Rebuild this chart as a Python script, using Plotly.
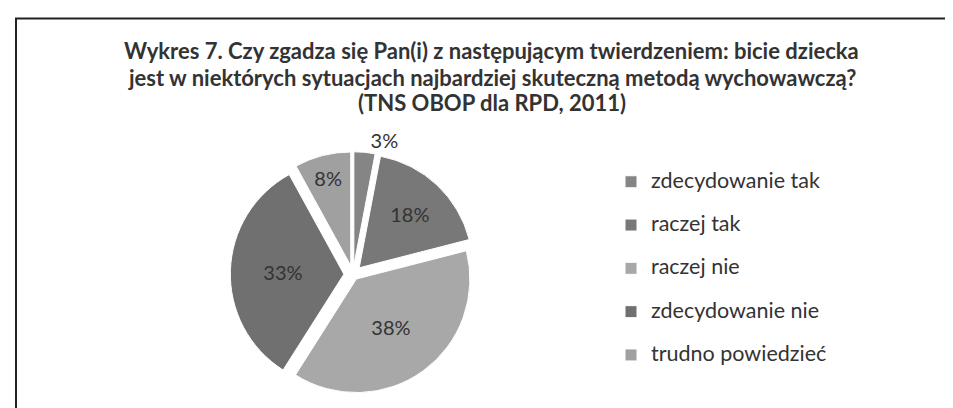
import plotly.graph_objects as go

title_lines = [
    "Wykres 7. Czy zgadza się Pan(i) z następującym twierdzeniem: bicie dziecka",
    "jest w niektórych sytuacjach najbardziej skuteczną metodą wychowawczą?",
    "(TNS OBOP dla RPD, 2011)",
]
categories = ["zdecydowanie tak", "raczej tak", "raczej nie", "zdecydowanie nie", "trudno powiedzieć"]
values = [3, 18, 38, 33, 8]
colors = ["#858585", "#787878", "#a8a8a8", "#707070", "#a0a0a0"]
text_positions = ["outside", "inside", "inside", "inside", "inside"]

W, H = 953, 408

legend_labels = [f"<span style='font-size:21.5px'>{c}</span><br> " for c in categories]

pie_font = dict(family="Lato", size=20, color="#333333")

fig = go.Figure()
fig.add_trace(go.Pie(
    labels=legend_labels,
    values=values,
    sort=False,
    direction="clockwise",
    rotation=0,
    pull=[0.08, 0.08, 0.05, 0.08, 0.08],
    marker=dict(colors=colors, line=dict(color="white", width=1)),
    textinfo="percent",
    texttemplate="%{value}%",
    textposition=text_positions,
    insidetextorientation="horizontal",
    textfont=pie_font,
    insidetextfont=pie_font,
    outsidetextfont=pie_font,
    domain=dict(x=[210 / W, 480 / W], y=[2 / H, 1 - 150 / H]),
    hoverinfo="label+percent",
))

title_y = [44, 72, 99]
for line, yy in zip(title_lines, title_y):
    fig.add_annotation(
        text=f"<b>{line}</b>", x=0.5 + 7 / W, y=1 - yy / H, xref="paper", yref="paper",
        xanchor="center", yanchor="middle", showarrow=False,
        font=dict(family="Lato", size=22, color="#333333"),
    )

fig.add_shape(type="rect", xref="paper", yref="paper",
              x0=8 / W, x1=1.05, y0=-0.05, y1=1 - 11 / H,
              line=dict(color="#222222", width=2), fillcolor="rgba(0,0,0,0)")

fig.update_layout(
    width=W, height=H,
    margin=dict(l=0, r=0, t=0, b=0),
    paper_bgcolor="white", plot_bgcolor="white",
    showlegend=True,
    legend=dict(
        x=603 / W, y=1 - 164 / H, xanchor="left", yanchor="top",
        font=dict(family="Lato", size=15.5, color="#333333"),
        valign="top",
        bgcolor="rgba(0,0,0,0)",
    ),
)

fig.write_html("out.html")
